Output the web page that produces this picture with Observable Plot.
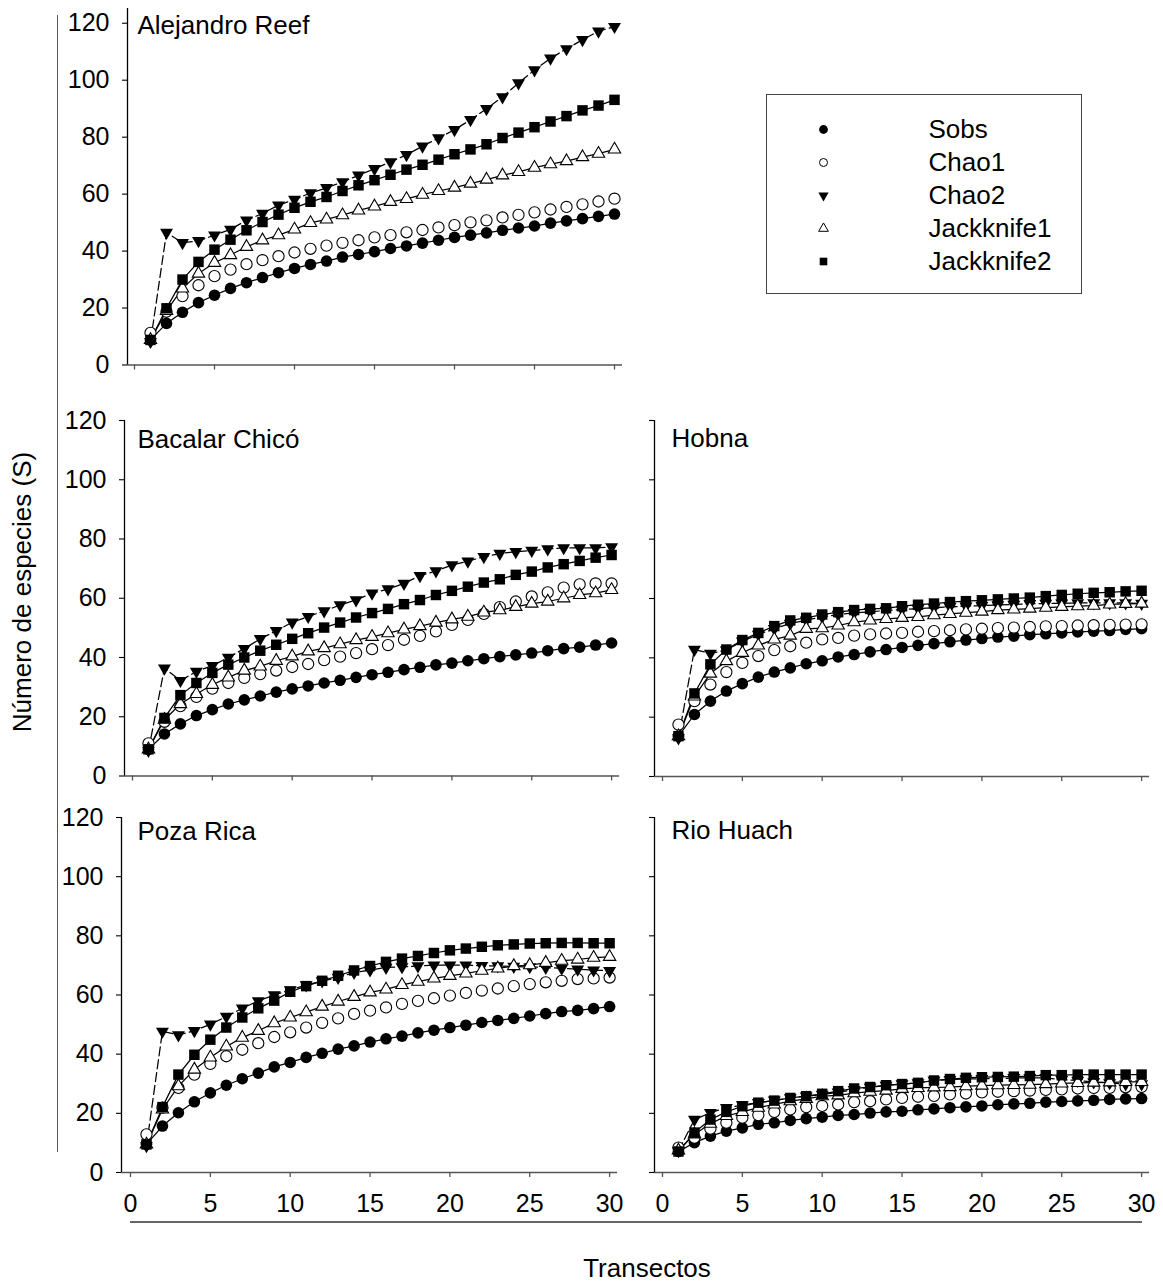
<!DOCTYPE html>
<html>
<head>
<meta charset="utf-8">
<script src="https://cdn.jsdelivr.net/npm/d3@7"></script>
<script src="https://cdn.jsdelivr.net/npm/@observablehq/plot@0.6"></script>
<style>
  html, body { margin: 0; padding: 0; background: #fff; }
  #page { position: relative; width: 1163px; height: 1285px; overflow: hidden; font-family: "Liberation Sans", Arial, sans-serif; color: #000; }
  .layer { position: absolute; left: 0; top: 0; }
  .ylabel { position: absolute; left: 22px; top: 592px; transform: translate(-50%, -50%) rotate(-90deg); font-size: 26px; white-space: nowrap; }
  .xlabel { position: absolute; left: 647px; top: 1268px; transform: translate(-50%, -50%); font-size: 26px; white-space: nowrap; }
  .vline { position: absolute; left: 57px; top: 15px; width: 1px; height: 1137px; background: #555; }
  .hline { position: absolute; left: 130px; top: 1221px; width: 1012px; height: 2px; background: #666; }
  #legend { position: absolute; left: 766px; top: 94px; width: 316px; height: 200px; border: 1px solid #444; box-sizing: border-box; }
</style>
</head>
<body>
<div id="page">
  <div class="vline"></div>
  <div class="hline"></div>
  <div class="ylabel">Número de especies (S)</div>
  <div class="xlabel">Transectos</div>
  <div id="legend"></div>
</div>
<script>
// ---------------- DATA ----------------
const transectos = [1,2,3,4,5,6,7,8,9,10,11,12,13,14,15,16,17,18,19,20,21,22,23,24,25,26,27,28,29,30];
const seriesNames = ["Sobs", "Chao1", "Chao2", "Jackknife1", "Jackknife2"];
const siteNames = ["Alejandro Reef", "Bacalar Chicó", "Hobna", "Poza Rica", "Rio Huach"];
const xTicks = [0, 5, 10, 15, 20, 25, 30];
const yTicks = [0, 20, 40, 60, 80, 100, 120];

// Alejandro Reef
const alejandroSobs  = [8.8,14.6,18.5,21.9,24.5,26.9,28.9,30.7,32.4,33.9,35.3,36.5,37.9,38.8,39.8,40.9,41.8,42.8,43.8,44.8,45.6,46.4,47.3,48.1,48.8,49.8,50.6,51.4,52.2,53.0];
const alejandroChao1 = [11.3,18.7,24.2,28.0,31.2,33.5,35.4,36.8,38.2,39.5,40.8,41.9,42.9,43.8,44.8,45.6,46.6,47.4,48.3,49.1,50.1,50.8,51.8,52.7,53.6,54.6,55.5,56.4,57.4,58.4];
const alejandroChao2 = [8.2,46.5,42.9,43.6,45.6,47.6,50.8,53.2,56.1,58.1,60.4,62.2,64.3,66.6,68.9,71.3,73.8,76.8,79.7,82.6,86.1,90.0,94.1,99.0,103.6,107.7,111.0,114.2,117.2,118.8];
const alejandroJack1 = [8.8,19.0,26.9,32.1,35.9,38.6,41.5,43.8,45.6,47.6,49.9,51.1,52.6,54.3,55.7,57.3,58.3,59.8,61.1,62.3,63.7,65.1,66.6,67.8,69.3,70.5,71.6,73.0,74.2,75.7];
const alejandroJack2 = [8.8,19.9,30.0,36.2,40.5,44.0,47.3,50.2,52.8,55.2,57.3,59.0,61.1,63.1,64.9,66.8,68.6,70.3,72.1,74.0,75.7,77.5,79.7,81.6,83.5,85.5,87.4,89.4,91.1,93.1];

// Bacalar Chicó
const bacalarSobs  = [9.0,14.2,17.6,20.4,22.4,24.3,25.7,27.0,28.3,29.4,30.4,31.4,32.3,33.3,34.2,35.0,35.9,36.7,37.5,38.1,38.9,39.6,40.3,40.9,41.5,42.3,43.0,43.5,44.2,44.9];
const bacalarChao1 = [11.0,18.3,23.6,26.7,29.5,31.4,33.1,34.4,35.6,36.8,37.8,39.1,40.3,41.5,42.8,44.2,46.0,47.3,48.8,51.0,52.7,54.7,57.0,58.9,60.6,62.0,63.6,64.7,65.0,65.0];
const bacalarChao2 = [8.6,36.4,32.2,35.3,37.2,40.0,43.0,46.3,49.0,51.9,53.8,55.7,57.7,59.4,61.7,63.1,65.0,67.6,69.2,71.2,72.5,74.0,75.1,75.7,76.1,76.6,77.0,77.0,77.0,77.3];
const bacalarJack1 = [9.0,19.0,24.3,27.7,30.8,33.3,35.6,37.0,38.9,40.4,42.1,43.2,44.5,45.9,47.0,48.2,49.5,50.6,51.8,52.9,53.8,55.2,56.0,57.1,58.2,58.9,60.0,61.1,61.7,62.8];
const bacalarJack2 = [9.0,19.6,27.3,31.4,34.8,37.6,40.0,42.3,44.3,46.3,48.2,50.1,51.8,53.5,55.0,56.4,58.0,59.4,61.1,62.5,63.9,65.3,66.4,67.9,69.0,70.4,71.5,72.6,73.7,74.6];

// Hobna
const hobnaSobs  = [13.6,20.9,25.4,28.8,31.3,33.5,35.2,36.6,38.0,39.0,40.3,41.1,42.0,42.8,43.5,44.2,44.8,45.4,46.0,46.5,47.0,47.3,47.8,48.1,48.4,48.7,49.0,49.2,49.6,49.8];
const hobnaChao1 = [17.5,25.4,31.0,35.2,38.3,40.6,42.6,43.9,45.1,46.2,46.7,47.5,47.9,48.2,48.4,48.8,49.0,49.3,49.6,49.8,50.0,50.2,50.4,50.6,50.7,50.9,51.0,51.1,51.2,51.3];
const hobnaChao2 = [13.0,42.8,41.5,42.6,45.6,47.9,49.8,51.6,52.7,53.8,54.6,55.2,55.5,56.0,56.3,56.6,56.9,57.2,57.4,57.6,57.8,58.0,58.2,58.3,58.4,58.5,58.5,58.5,58.5,58.3];
const hobnaJack1 = [13.6,27.0,34.7,38.9,41.7,44.2,46.2,47.5,49.8,50.0,50.9,52.0,52.6,53.1,53.5,53.8,54.4,54.8,55.2,55.6,56.1,56.3,56.6,56.9,57.2,57.4,57.6,58.0,58.2,58.3];
const hobnaJack2 = [13.6,28.0,37.8,42.8,46.0,48.4,50.7,52.6,53.5,54.6,55.4,56.1,56.5,56.7,57.4,57.9,58.3,58.8,59.1,59.4,59.7,60.0,60.3,60.8,61.2,61.6,61.9,62.1,62.4,62.6];

// Poza Rica
const pozaSobs  = [9.5,15.7,20.2,23.9,26.9,29.5,31.7,33.6,35.7,37.2,38.9,40.3,41.7,42.8,44.1,45.2,46.1,47.2,48.1,49.0,49.8,50.7,51.4,52.1,52.9,53.7,54.4,54.8,55.4,56.1];
const pozaChao1 = [12.9,21.9,28.6,33.1,36.7,39.3,41.5,43.7,45.8,47.4,49.0,50.6,52.1,53.6,54.7,55.8,57.0,58.0,58.9,59.8,60.7,61.5,62.2,63.0,63.7,64.3,64.8,65.4,65.6,65.9];
const pozaChao2 = [9.0,47.7,46.5,47.9,50.1,52.7,55.5,58.0,60.0,61.7,63.4,64.7,65.9,67.6,68.4,69.3,69.5,69.8,70.1,70.1,70.1,69.9,69.8,69.6,69.5,69.3,69.0,68.7,68.4,68.2];
const pozaJack1 = [9.5,21.3,29.2,34.8,38.9,42.6,45.6,47.9,50.5,52.4,54.2,56.1,57.8,59.4,60.9,61.9,63.4,64.5,65.6,66.5,67.3,68.2,69.0,69.8,70.1,70.9,71.6,72.0,72.6,72.9];
const pozaJack2 = [9.5,22.1,33.1,39.8,44.9,49.0,52.4,55.5,58.1,61.1,63.0,64.8,66.5,68.3,69.8,71.2,72.3,73.2,74.2,75.1,75.7,76.3,76.8,77.1,77.4,77.5,77.6,77.6,77.5,77.5];

// Rio Huach
const rioSobs  = [7.1,10.1,12.3,14.0,15.1,16.3,16.8,17.6,18.2,18.7,19.3,19.6,20.1,20.5,20.7,21.2,21.5,21.9,22.2,22.5,22.9,23.2,23.4,23.8,24.0,24.2,24.4,24.7,24.9,25.0];
const rioChao1 = [8.4,11.8,14.8,16.8,18.5,19.4,20.5,21.3,22.1,22.5,23.0,23.8,24.1,24.7,25.2,25.6,25.9,26.4,26.7,27.1,27.3,27.5,27.7,27.9,28.1,28.4,28.6,28.6,28.8,28.9];
const rioChao2 = [7.3,17.9,20.2,21.9,22.8,23.6,24.4,25.2,25.8,26.4,27.1,28.0,28.8,29.4,29.9,30.3,31.1,31.4,31.6,31.7,31.7,32.0,32.0,32.0,31.4,31.1,30.6,30.3,29.9,29.9];
const rioJack1 = [7.5,12.9,16.5,19.1,20.5,21.9,23.0,24.1,24.9,25.8,26.1,26.8,27.3,27.7,28.3,28.6,28.8,28.9,29.2,29.4,29.5,29.6,29.7,29.9,30.1,30.3,30.4,30.5,30.6,30.6];
const rioJack2 = [7.1,13.5,17.9,20.5,22.4,23.6,24.3,25.2,25.8,26.6,27.5,28.4,28.9,29.5,29.9,30.3,31.1,31.6,32.0,32.2,32.3,32.4,32.6,32.9,32.9,33.1,33.1,33.1,33.1,33.1];

// ---------------- BUILD TABLE ----------------
const siteSeries = {
  "Alejandro Reef": [alejandroSobs, alejandroChao1, alejandroChao2, alejandroJack1, alejandroJack2],
  "Bacalar Chicó": [bacalarSobs, bacalarChao1, bacalarChao2, bacalarJack1, bacalarJack2],
  "Hobna": [hobnaSobs, hobnaChao1, hobnaChao2, hobnaJack1, hobnaJack2],
  "Poza Rica": [pozaSobs, pozaChao1, pozaChao2, pozaJack1, pozaJack2],
  "Rio Huach": [rioSobs, rioChao1, rioChao2, rioJack1, rioJack2]
};
const rows = [];
for (const site of siteNames) {
  siteSeries[site].forEach((vals, k) => {
    vals.forEach((v, i) => rows.push({site, series: seriesNames[k], t: transectos[i], s: v}));
  });
}

// ---------------- STYLE ----------------
const FONT = '"Liberation Sans", Arial, Helvetica, sans-serif';
const W = 1163, H = 1285;

const triangleDown = {
  draw(context, size) {
    const s = Math.sqrt(4 * size / Math.sqrt(3));
    const h = s * Math.sqrt(3) / 2;
    context.moveTo(0, 2 * h / 3);
    context.lineTo(-s / 2, -h / 3);
    context.lineTo(s / 2, -h / 3);
    context.closePath();
  }
};

const seriesStyle = {
  "Sobs":       {line: true, dash: null,  symbol: "circle",   fill: "black", stroke: "none",  r: 5.8, lr: 4.4},
  "Chao1":      {line: false, dash: null, symbol: "circle",   fill: "white", stroke: "black", r: 5.6, lr: 4.0},
  "Chao2":      {line: true, dash: "9,4", symbol: triangleDown, fill: "black", stroke: "none", r: 4.8, lr: 3.8},
  "Jackknife1": {line: true, dash: null,  symbol: "triangle", fill: "white", stroke: "black", r: 4.6, lr: 3.6},
  "Jackknife2": {line: true, dash: null,  symbol: "square",   fill: "black", stroke: "none",  r: 5.9, lr: 4.3}
};

// panel geometry (pixels)
const panels = {
  "Alejandro Reef": {axisX: 127, x0: 134, ppx: 16.0,  yTop: 8,   y0: 364.5, ppy: 2.848, showX: false, showY: true,  tdx: 10, tdy: 17},
  "Bacalar Chicó":  {axisX: 124, x0: 132, ppx: 15.97, yTop: 420, y0: 775.5, ppy: 2.9625, showX: false, showY: true,  tdx: 13, tdy: 19},
  "Hobna":          {axisX: 654, x0: 662, ppx: 15.97, yTop: 420, y0: 776,   ppy: 2.9667, showX: false, showY: false, tdx: 17, tdy: 18},
  "Poza Rica":      {axisX: 121, x0: 130, ppx: 15.97, yTop: 817, y0: 1172,  ppy: 2.9583, showX: true,  showY: true,  tdx: 16, tdy: 14},
  "Rio Huach":      {axisX: 654, x0: 662, ppx: 15.97, yTop: 817, y0: 1172,  ppy: 2.9583, showX: true,  showY: false, tdx: 17, tdy: 13}
};

const page = document.getElementById("page");

for (const site of siteNames) {
  const g = panels[site];
  const data = rows.filter(d => d.site === site);
  const xmin = (g.axisX - g.x0) / g.ppx;
  const xmax = 30.5;
  const rightPx = g.x0 + xmax * g.ppx;
  const ymax = (g.y0 - g.yTop) / g.ppy;

  const marks = [];
  marks.push(Plot.ruleY([0], {stroke: "#555", strokeWidth: 1.6}));
  marks.push(Plot.ruleX([xmin], {y1: 0, y2: ymax, stroke: "black", strokeWidth: 1.3}));
  marks.push(Plot.axisX({ticks: xTicks, tickSize: 5, tickPadding: 17, stroke: "#555", strokeWidth: 1.3,
    tickFormat: g.showX ? (d => String(d)) : (() => ""), label: null, fontSize: 25, fill: "black"}));
  marks.push(Plot.axisY({ticks: yTicks, tickSize: 5, tickPadding: 13, stroke: "black", strokeWidth: 1.1,
    tickFormat: g.showY ? (d => String(d)) : (() => ""), label: null, fontSize: 25, fill: "black"}));

  for (const name of seriesNames) {
    const st = seriesStyle[name];
    if (!st.line) continue;
    marks.push(Plot.line(data.filter(d => d.series === name), {
      x: "t", y: "s", stroke: "black", strokeWidth: 1.25,
      strokeDasharray: st.dash || undefined
    }));
  }
  for (const name of seriesNames) {
    const st = seriesStyle[name];
    marks.push(Plot.dot(data.filter(d => d.series === name), {
      x: "t", y: "s", symbol: st.symbol, r: st.r,
      fill: st.fill, stroke: st.stroke, strokeWidth: 1.1
    }));
  }
  marks.push(Plot.text([site], {
    text: d => d, frameAnchor: "top-left", textAnchor: "start", lineAnchor: "middle",
    dx: g.tdx, dy: g.tdy, fontSize: 26, fill: "black"
  }));

  const svg = Plot.plot({
    width: W, height: H,
    marginLeft: g.axisX, marginRight: W - rightPx,
    marginTop: g.yTop, marginBottom: H - g.y0,
    style: {background: "transparent", fontFamily: FONT, fontSize: "25px", color: "black", overflow: "visible"},
    x: {domain: [xmin, xmax]},
    y: {domain: [0, ymax]},
    marks
  });
  const wrap = document.createElement("div");
  wrap.className = "layer";
  wrap.appendChild(svg);
  page.appendChild(wrap);
}

// ---------------- LEGEND ----------------
const legendMarks = [];
for (const name of seriesNames) {
  const st = seriesStyle[name];
  legendMarks.push(Plot.dot([name], {
    y: d => d, frameAnchor: "left", dx: 56, symbol: st.symbol, r: st.lr,
    fill: st.fill, stroke: st.stroke, strokeWidth: 1
  }));
}
legendMarks.push(Plot.text(seriesNames, {
  y: d => d, text: d => d, frameAnchor: "left", dx: 161, textAnchor: "start",
  fontSize: 26, fill: "black"
}));
const legendSvg = Plot.plot({
  width: 314, height: 198,
  marginLeft: 0, marginRight: 0, marginTop: 0, marginBottom: 0,
  style: {background: "transparent", fontFamily: FONT, color: "black", overflow: "visible"},
  y: {type: "point", domain: seriesNames, range: [33, 166], padding: 0, axis: null},
  marks: legendMarks
});
document.getElementById("legend").appendChild(legendSvg);
</script>
</body>
</html>
